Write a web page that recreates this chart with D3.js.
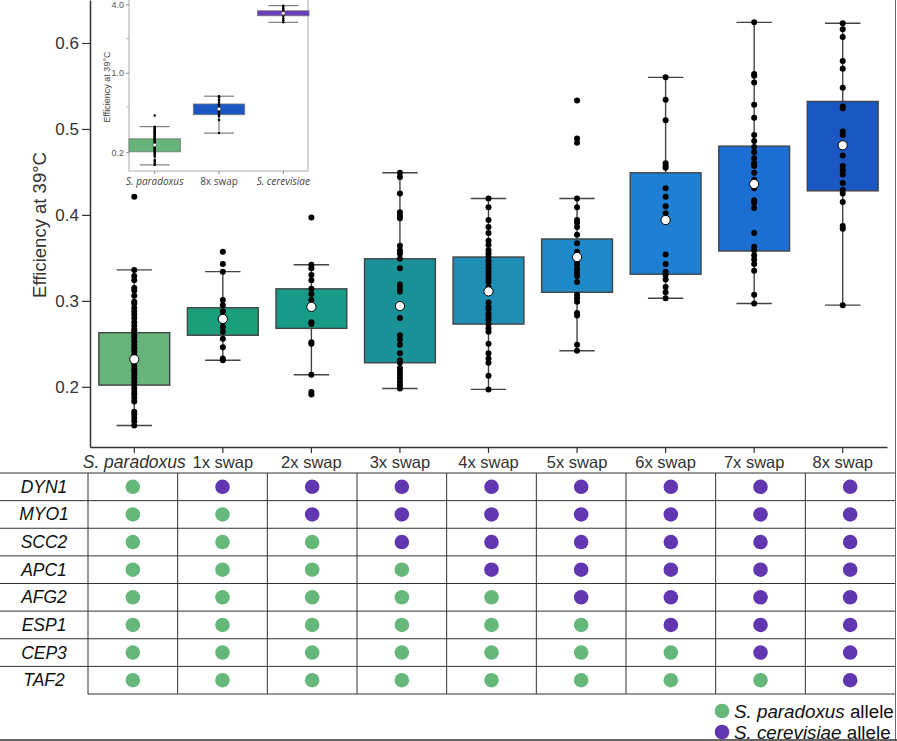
<!DOCTYPE html>
<html lang="en">
<head>
<meta charset="UTF-8">
<title>Efficiency at 39°C by swap</title>
<script src="https://d3js.org/d3.v7.min.js"></script>
<style>
  body { margin: 0; background: #fff; }
  svg { display: block; font-family: "Liberation Sans", Arial, sans-serif; }
</style>
</head>
<body>
<svg id="chart" width="897" height="741"></svg>
<script>
// categories and box statistics
const categories = ["S. paradoxus", "1x swap", "2x swap", "3x swap", "4x swap", "5x swap", "6x swap", "7x swap", "8x swap"];
const q1 = [0.202, 0.260, 0.268, 0.228, 0.273, 0.310, 0.331, 0.358, 0.428];
const q3 = [0.263, 0.292, 0.314, 0.349, 0.351, 0.372, 0.449, 0.480, 0.532];
const whiskerLo = [0.155, 0.231, 0.214, 0.198, 0.197, 0.242, 0.303, 0.297, 0.295];
const whiskerHi = [0.336, 0.334, 0.342, 0.449, 0.419, 0.419, 0.560, 0.624, 0.623];
const means = [0.232, 0.279, 0.293, 0.294, 0.311, 0.351, 0.394, 0.436, 0.481];
const boxColors = ["#66b47a", "#1a9f7a", "#189a88", "#1a9196", "#1f8db4", "#1e88c8", "#1e7fd3", "#1c6fd2", "#1a57c3"];

// individual measurements per category
const points = [
  [0.421, 0.336, 0.329, 0.324, 0.315, 0.312, 0.306, 0.299, 0.297, 0.292, 0.288, 0.284, 0.280, 0.275, 0.271, 0.267, 0.264,
   0.260, 0.257, 0.253, 0.249, 0.245, 0.241, 0.237, 0.229, 0.225, 0.221, 0.218, 0.214, 0.210, 0.206, 0.202, 0.198,
   0.194, 0.191, 0.187, 0.183, 0.171, 0.168, 0.164, 0.160, 0.155],
  [0.357, 0.343, 0.334, 0.301, 0.295, 0.288, 0.283, 0.276, 0.270, 0.264, 0.256, 0.246, 0.233, 0.231],
  [0.397, 0.342, 0.338, 0.330, 0.324, 0.314, 0.308, 0.301, 0.275, 0.273, 0.252, 0.250, 0.214, 0.194, 0.191],
  [0.449, 0.444, 0.425, 0.403, 0.399, 0.396, 0.364, 0.359, 0.355, 0.349, 0.338, 0.319, 0.315, 0.311, 0.280, 0.260,
   0.255, 0.249, 0.239, 0.231, 0.228, 0.222, 0.218, 0.214, 0.210, 0.206, 0.202, 0.198],
  [0.419, 0.409, 0.394, 0.386, 0.379, 0.370, 0.365, 0.359, 0.355, 0.351, 0.346, 0.342, 0.338, 0.334, 0.330, 0.326,
   0.322, 0.316, 0.298, 0.293, 0.290, 0.285, 0.282, 0.278, 0.273, 0.268, 0.264, 0.250, 0.239, 0.233, 0.228, 0.213, 0.197],
  [0.533, 0.489, 0.484, 0.419, 0.409, 0.394, 0.391, 0.386, 0.377, 0.367, 0.357, 0.346, 0.342, 0.337, 0.333, 0.329,
   0.322, 0.307, 0.303, 0.299, 0.286, 0.283, 0.249, 0.242],
  [0.560, 0.534, 0.510, 0.460, 0.457, 0.455, 0.431, 0.421, 0.410, 0.402, 0.354, 0.343, 0.334, 0.330, 0.325, 0.316,
   0.310, 0.303],
  [0.624, 0.564, 0.562, 0.554, 0.528, 0.513, 0.493, 0.486, 0.479, 0.473, 0.466, 0.460, 0.457, 0.449, 0.441, 0.431,
   0.417, 0.414, 0.408, 0.379, 0.363, 0.359, 0.353, 0.348, 0.343, 0.335, 0.307, 0.297],
  [0.623, 0.616, 0.607, 0.579, 0.570, 0.548, 0.526, 0.524, 0.497, 0.493, 0.469, 0.457, 0.452, 0.447, 0.437, 0.429,
   0.425, 0.415, 0.387, 0.384, 0.295]
];
const yTicks = [0.2, 0.3, 0.4, 0.5, 0.6];

// inset (log scale): S. paradoxus, 8x swap, S. cerevisiae
const insetCats = ["S. paradoxus", "8x swap", "S. cerevisiae"];
const insetColors = ["#66b47a", "#1a57c3", "#6a3cc0"];
const cerevisiaePoints = [3.89, 3.80, 3.70, 3.58, 3.47, 3.40, 3.33, 3.25, 3.15, 3.02, 2.90, 2.78];
const cerevisiaeBox = { q1: 3.17, q3: 3.51, lo: 2.78, hi: 3.89, mean: 3.33 };
const insetTicks = [0.2, 1.0, 4.0];
const insetMinor = [0.5, 2.0];

// allele table (P = S. paradoxus, C = S. cerevisiae)
const genes = ["DYN1", "MYO1", "SCC2", "APC1", "AFG2", "ESP1", "CEP3", "TAF2"];
const alleles = [
  ["P", "C", "C", "C", "C", "C", "C", "C", "C"],
  ["P", "P", "C", "C", "C", "C", "C", "C", "C"],
  ["P", "P", "P", "C", "C", "C", "C", "C", "C"],
  ["P", "P", "P", "P", "C", "C", "C", "C", "C"],
  ["P", "P", "P", "P", "P", "C", "C", "C", "C"],
  ["P", "P", "P", "P", "P", "P", "C", "C", "C"],
  ["P", "P", "P", "P", "P", "P", "P", "C", "C"],
  ["P", "P", "P", "P", "P", "P", "P", "P", "C"]
];
const alleleColor = { P: "#66b77a", C: "#6236b0" };

const svg = d3.select("#chart");
const ink = "#333";

// ---------- main box plot ----------
const x = d3.scaleBand().domain(categories).range([90, 887]).paddingInner(0.2).paddingOuter(0.1);
const y = d3.scaleLinear().domain([0.13, 0.65]).range([447, 0]);

const boxes = categories.map((c, i) => ({
  cat: c, q1: q1[i], q3: q3[i], lo: whiskerLo[i], hi: whiskerHi[i], mean: means[i],
  color: boxColors[i], pts: points[i]
}));

const bw = x.bandwidth();
const g = svg.append("g");

const bx = g.selectAll(".box").data(boxes).enter().append("g")
  .attr("class", "box")
  .attr("transform", d => `translate(${x(d.cat) + bw / 2},0)`);

bx.append("line")
  .attr("y1", d => y(d.hi)).attr("y2", d => y(d.lo))
  .attr("stroke", "#444").attr("stroke-width", 1.4);
bx.append("line")
  .attr("x1", -bw / 4).attr("x2", bw / 4)
  .attr("y1", d => y(d.hi)).attr("y2", d => y(d.hi))
  .attr("stroke", "#444").attr("stroke-width", 1.4);
bx.append("line")
  .attr("x1", -bw / 4).attr("x2", bw / 4)
  .attr("y1", d => y(d.lo)).attr("y2", d => y(d.lo))
  .attr("stroke", "#444").attr("stroke-width", 1.4);
bx.append("rect")
  .attr("x", -bw / 2).attr("width", bw)
  .attr("y", d => y(d.q3)).attr("height", d => y(d.q1) - y(d.q3))
  .attr("fill", d => d.color).attr("stroke", "#444").attr("stroke-width", 1.4);
bx.selectAll(".pt").data(d => d.pts).enter().append("circle")
  .attr("class", "pt")
  .attr("cy", v => y(v)).attr("r", 3)
  .attr("fill", "#000");
bx.append("circle")
  .attr("cy", d => y(d.mean)).attr("r", 4.6)
  .attr("fill", "#fff").attr("stroke", "#000").attr("stroke-width", 1);

// axes
const yAxis = g.append("g").attr("transform", "translate(90,0)")
  .call(d3.axisLeft(y).tickValues(yTicks).tickFormat(d3.format(".1f")).tickSize(8).tickSizeOuter(0).tickPadding(3));
yAxis.select(".domain").attr("stroke", ink).attr("stroke-width", 1.5);
yAxis.selectAll(".tick line").attr("stroke", ink).attr("stroke-width", 1.2);
yAxis.selectAll(".tick text").attr("fill", ink).style("font-size", "17px").style("font-family", "Liberation Sans, Arial, sans-serif");

const xAxis = g.append("g").attr("transform", "translate(0,447)")
  .call(d3.axisBottom(x).tickSize(6).tickSizeOuter(0).tickPadding(3));
xAxis.select(".domain").attr("stroke", ink).attr("stroke-width", 1.5);
xAxis.selectAll(".tick line").attr("stroke", ink).attr("stroke-width", 1.2);
xAxis.selectAll(".tick text").attr("fill", ink)
  .style("font-family", "Liberation Sans, Arial, sans-serif")
  .style("font-size", d => d === "S. paradoxus" ? "17.5px" : "16.5px")
  .style("font-style", d => d === "S. paradoxus" ? "italic" : "normal");

g.append("text")
  .attr("transform", "translate(46,225) rotate(-90)")
  .attr("text-anchor", "middle")
  .attr("fill", ink)
  .style("font-size", "18.5px")
  .text("Efficiency at 39°C");

// ---------- inset ----------
const ins = svg.append("g");
ins.append("rect").attr("x", 93).attr("y", 0).attr("width", 218).attr("height", 192).attr("fill", "#fff");

const xi = d3.scaleBand().domain(insetCats).range([129, 309]).padding(0.2).paddingOuter(0);
const yi = d3.scaleLog().domain([0.137, 4.83]).range([171, -5]);

const insetData = [
  { cat: insetCats[0], q1: q1[0], q3: q3[0], lo: whiskerLo[0], hi: whiskerHi[0], mean: means[0], pts: points[0], color: insetColors[0] },
  { cat: insetCats[1], q1: q1[8], q3: q3[8], lo: whiskerLo[8], hi: whiskerHi[8], mean: means[8], pts: points[8], color: insetColors[1] },
  Object.assign({ cat: insetCats[2], pts: cerevisiaePoints, color: insetColors[2] }, cerevisiaeBox)
];
const ibw = xi.bandwidth();

ins.append("rect").attr("x", 129).attr("y", -5).attr("width", 179).attr("height", 176)
  .attr("fill", "none").attr("stroke", "#aaa").attr("stroke-width", 1);

const ib = ins.selectAll(".ibox").data(insetData).enter().append("g")
  .attr("class", "ibox")
  .attr("transform", d => `translate(${xi(d.cat) + ibw / 2},0)`);
ib.append("line").attr("y1", d => yi(d.hi)).attr("y2", d => yi(d.lo)).attr("stroke", "#555").attr("stroke-width", 0.9);
ib.append("line").attr("x1", -15).attr("x2", 15).attr("y1", d => yi(d.hi)).attr("y2", d => yi(d.hi)).attr("stroke", "#555").attr("stroke-width", 0.9);
ib.append("line").attr("x1", -15).attr("x2", 15).attr("y1", d => yi(d.lo)).attr("y2", d => yi(d.lo)).attr("stroke", "#555").attr("stroke-width", 0.9);
ib.append("rect").attr("x", -ibw / 2).attr("width", ibw)
  .attr("y", d => yi(d.q3)).attr("height", d => yi(d.q1) - yi(d.q3))
  .attr("fill", d => d.color).attr("stroke", "#777").attr("stroke-width", 0.8);
ib.selectAll(".ipt").data(d => d.pts).enter().append("circle")
  .attr("cy", v => yi(v)).attr("r", 1.2).attr("fill", "#000");
ib.append("circle").attr("cy", d => yi(d.mean)).attr("r", 1.8).attr("fill", "#fff").attr("stroke", "#222").attr("stroke-width", 0.4);

const yiAxis = ins.append("g").attr("transform", "translate(129,0)")
  .call(d3.axisLeft(yi).tickValues(insetTicks).tickFormat(d3.format(".1f")).tickSize(3).tickSizeOuter(0).tickPadding(2));
yiAxis.select(".domain").remove();
yiAxis.selectAll(".tick line").attr("stroke", "#888");
yiAxis.selectAll(".tick text").attr("fill", "#555").style("font-size", "9px").style("font-family", "Liberation Sans, Arial, sans-serif");
ins.selectAll(".minor").data(insetMinor).enter().append("line")
  .attr("x1", 126).attr("x2", 129).attr("y1", v => yi(v)).attr("y2", v => yi(v))
  .attr("stroke", "#aaa").attr("stroke-width", 0.8);

const xiAxis = ins.append("g").attr("transform", "translate(0,171)")
  .call(d3.axisBottom(xi).tickSize(3).tickSizeOuter(0).tickPadding(4));
xiAxis.select(".domain").remove();
xiAxis.selectAll(".tick line").attr("stroke", "#888");
xiAxis.selectAll(".tick text").attr("fill", "#444")
  .style("font-size", "10px").style("font-family", "Open Sans, Liberation Sans, sans-serif")
  .style("font-style", d => d === "8x swap" ? "normal" : "italic");

ins.append("text")
  .attr("transform", "translate(110,87) rotate(-90)")
  .attr("text-anchor", "middle").attr("fill", "#444")
  .style("font-size", "9px")
  .text("Efficiency at 39°C");

// ---------- allele table ----------
const tx = d3.scaleBand().domain(categories).range([88, 895]);
const ty = d3.scaleBand().domain(genes).range([473, 694]);
const tbl = svg.append("g");

tbl.selectAll(".hline").data(genes).enter().append("line")
  .attr("x1", 0).attr("x2", 895)
  .attr("y1", d => ty(d)).attr("y2", d => ty(d))
  .attr("stroke", ink).attr("stroke-width", 1);
tbl.append("line").attr("x1", 88).attr("x2", 895).attr("y1", 694).attr("y2", 694).attr("stroke", ink);
tbl.selectAll(".vline").data(categories).enter().append("line")
  .attr("x1", d => tx(d)).attr("x2", d => tx(d))
  .attr("y1", 473).attr("y2", 694)
  .attr("stroke", ink).attr("stroke-width", 1);

tbl.selectAll(".gene").data(genes).enter().append("text")
  .attr("x", 44).attr("y", d => ty(d) + ty.bandwidth() / 2 + 6)
  .attr("text-anchor", "middle").attr("fill", "#111")
  .style("font-size", "17.5px").style("font-style", "italic")
  .text(d => d);

const cells = [];
genes.forEach((gn, r) => categories.forEach((c, k) => cells.push({ gene: gn, cat: c, a: alleles[r][k] })));
tbl.selectAll(".cell").data(cells).enter().append("circle")
  .attr("cx", d => tx(d.cat) + tx.bandwidth() / 2)
  .attr("cy", d => ty(d.gene) + ty.bandwidth() / 2)
  .attr("r", 7.3)
  .attr("fill", d => alleleColor[d.a]);

// frame lines
svg.append("line").attr("x1", 895.5).attr("x2", 895.5).attr("y1", 0).attr("y2", 741).attr("stroke", "#666").attr("stroke-width", 1);
svg.append("line").attr("x1", 0).attr("x2", 897).attr("y1", 740).attr("y2", 740).attr("stroke", ink).attr("stroke-width", 1.5);

// legend
const legendItems = [
  { key: "P", sp: "S. paradoxus" },
  { key: "C", sp: "S. cerevisiae" }
];
const lg = svg.selectAll(".leg").data(legendItems).enter().append("g")
  .attr("transform", (d, i) => `translate(722,${711 + i * 21})`);
lg.append("circle").attr("r", 7.3).attr("fill", d => alleleColor[d.key]);
const lt = lg.append("text").attr("x", 12).attr("y", 6.5).attr("fill", "#111").style("font-size", "18.8px");
lt.append("tspan").style("font-style", "italic").text(d => d.sp);
lt.append("tspan").text(" allele");
</script>
</body>
</html>
